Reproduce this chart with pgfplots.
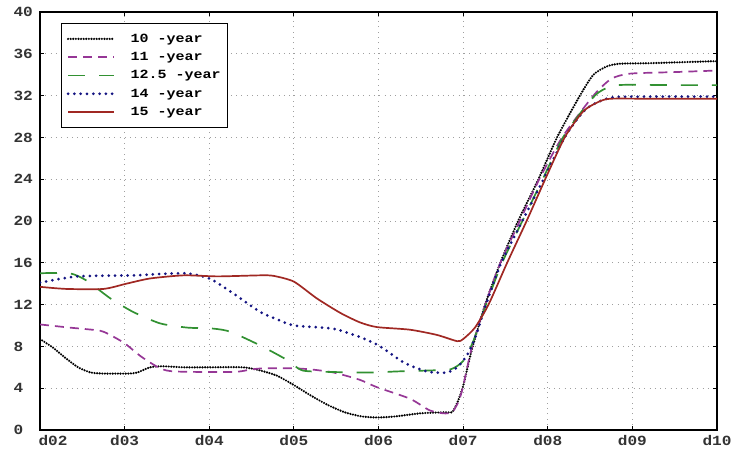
\documentclass[border=0pt]{standalone}
\usepackage{pgfplots}
\pgfplotsset{compat=1.18}
\usepackage{fontspec}
\setmainfont{Liberation Mono}
\newfontfamily\chartfont[FakeStretch=1.15]{Liberation Mono}
\newfontfamily\legendfont[FakeStretch=1.2]{Liberation Mono}

\definecolor{cPurple}{RGB}{150,55,150}
\definecolor{cGreen}{RGB}{50,145,50}
\definecolor{cBlue}{RGB}{20,20,130}
\definecolor{cRed}{RGB}{160,40,35}

\begin{document}
\begin{tikzpicture}
\begin{axis}[
  scale only axis,
  width=677pt, height=418pt,
  xmin=0, xmax=8, ymin=0, ymax=40,
  xtick={0,1,2,3,4,5,6,7,8},
  xticklabels={\hspace*{26pt}d02,d03,d04,d05,d06,d07,d08,d09,d10},
  ytick={0,4,8,12,16,20,24,28,32,36,40},
  /pgf/number format/assume math mode=true,
  tick label style={font=\chartfont\bfseries\fontsize{14}{15}\selectfont, text=black!80},
  xticklabel style={yshift=-2pt},
  yticklabel style={anchor=west, xshift=-30pt},
  axis line style={line width=1.6pt},
  tick style={black, line width=0.8pt},
  major tick length=4pt,
  grid=major,
  major grid style={gray!75, line width=0.8pt, dash pattern=on 0.8pt off 4.5pt},
  legend style={at={(0.031,0.974)}, anchor=north west, draw=black, line width=1.2pt,
    font=\legendfont\bfseries\fontsize{12.5}{13.5}\selectfont, inner xsep=5pt, inner ysep=8.5pt,
    row sep=4.5pt, column sep=13pt, cells={anchor=west}},
  legend image code/.code={\draw[#1] (0pt,0pt) -- (46pt,0pt);},
  legend cell align=left,
]
% 10-year
\addplot[black, line width=2.4pt, line cap=round, dash pattern=on 0pt off 2.6pt, smooth, tension=0.4] coordinates {
(0,8.7)(0.15,7.9)(0.3,6.9)(0.45,6.0)(0.6,5.5)(0.75,5.4)(0.9,5.4)(1.05,5.4)(1.15,5.5)(1.3,6.0)(1.45,6.1)(1.7,6.0)(2.0,6.0)(2.4,6.0)(2.6,5.7)(2.8,5.2)(3.0,4.3)(3.2,3.3)(3.4,2.4)(3.6,1.7)(3.8,1.3)(4.0,1.2)(4.2,1.3)(4.5,1.6)(4.8,1.7)(4.87,1.7)(4.93,2.6)(5.0,4.2)(5.1,7.6)(5.26,12)(5.44,16)(5.65,20)(5.89,24)(6.11,28)(6.38,32)(6.54,34)(6.7,34.8)(6.85,35.05)(7.2,35.1)(7.6,35.2)(8,35.3)
};
\addlegendentry{10 -year}
% 11-year
\addplot[cPurple, line width=1.7pt, dash pattern=on 9pt off 6pt, smooth, tension=0.4] coordinates {
(0,10.1)(0.35,9.8)(0.71,9.5)(0.85,9.0)(1.0,8.3)(1.2,7.0)(1.42,5.9)(1.6,5.6)(2.28,5.55)(2.5,5.8)(2.64,5.9)(3.0,5.9)(3.2,5.8)(3.47,5.5)(3.78,4.8)(3.98,4.1)(4.37,3.0)(4.6,1.9)(4.76,1.6)(4.87,1.7)(4.95,2.8)(5.0,4.2)(5.1,7.8)(5.26,12)(5.44,16)(5.67,20)(5.9,24)(6.17,28)(6.54,32)(6.75,33.6)(6.97,34.1)(7.5,34.25)(8,34.4)
};
\addlegendentry{11 -year}
% 12.5-year
\addplot[cGreen, line width=1.7pt, dash pattern=on 17pt off 14pt, smooth, tension=0.4] coordinates {
(0,15.0)(0.35,15.0)(0.55,14.3)(0.83,12.6)(1.1,11.3)(1.42,10.2)(1.74,9.8)(2.05,9.7)(2.25,9.4)(2.6,8.1)(2.92,6.7)(3.1,5.7)(3.46,5.55)(3.94,5.5)(4.2,5.6)(4.6,5.7)(4.85,5.8)(5.0,6.6)(5.12,8.5)(5.27,12)(5.46,16)(5.7,20)(5.94,24)(6.18,28)(6.45,31)(6.6,32.3)(6.82,33.0)(7.5,33.0)(8,33.0)
};
\addlegendentry{12.5 -year}
% 14-year
\addplot[cBlue, line width=3pt, line cap=round, dash pattern=on 0pt off 6.3pt, smooth, tension=0.4] coordinates {
(0,14.1)(0.44,14.7)(1.1,14.8)(1.7,15.0)(2.0,14.5)(2.28,13.1)(2.6,11.3)(2.8,10.6)(3.0,10.0)(3.46,9.7)(3.78,8.9)(4.02,8.0)(4.29,6.5)(4.57,5.6)(4.8,5.5)(4.93,6.0)(5.05,7.2)(5.15,9.0)(5.27,12)(5.45,16)(5.7,20)(5.95,24)(6.2,28)(6.45,30.7)(6.74,31.8)(7.2,31.9)(8,31.9)
};
\addlegendentry{14 -year}
% 15-year
\addplot[cRed, line width=1.7pt, smooth, tension=0.4] coordinates {
(0,13.7)(0.31,13.5)(0.75,13.5)(1.02,14.0)(1.3,14.5)(1.7,14.8)(2.1,14.7)(2.6,14.8)(2.76,14.75)(3.0,14.2)(3.27,12.6)(3.55,11.2)(3.78,10.3)(3.98,9.85)(4.37,9.6)(4.69,9.1)(4.93,8.5)(5.0,8.7)(5.14,9.8)(5.3,12)(5.52,16)(5.75,20)(5.97,24)(6.2,28)(6.42,30.5)(6.6,31.4)(6.74,31.7)(7.2,31.7)(8,31.7)
};
\addlegendentry{15 -year}
\end{axis}
\pgfresetboundingbox
\path[use as bounding box] ([xshift=-40pt,yshift=-28pt]current axis.south west) rectangle ([xshift=16pt,yshift=12pt]current axis.north east);
\end{tikzpicture}
\end{document}
